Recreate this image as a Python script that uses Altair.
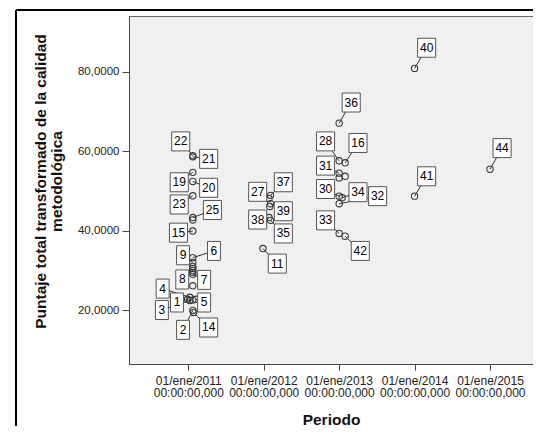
import altair as alt
import pandas as pd

# Case IDs, period (decimal year), score, and label-box anchor (data units)
ids = [22, 21, 19, 20, 23, 25, 24, 15, 6, 9, 10, 12, 8, 7, 13, 17, 1, 4, 3, 5, 18, 2, 14,
       37, 27, 39, 26, 38, 35, 11,
       36, 28, 16, 31, 29, 43, 30, 34, 32, 33, 42,
       40, 41, 44]
periodo = [2011.06, 2011.06, 2011.06, 2011.06, 2011.06, 2011.06, 2011.06, 2011.06, 2011.06,
           2011.06, 2011.06, 2011.06, 2011.06, 2011.06, 2011.06, 2011.06, 2010.99, 2011.02,
           2011.02, 2011.10, 2011.06, 2011.06, 2011.07,
           2012.09, 2012.07, 2012.09, 2012.08, 2012.07, 2012.09, 2011.99,
           2013.00, 2013.00, 2013.08, 2013.00, 2013.08, 2013.00, 2013.00, 2013.04, 2013.00,
           2013.00, 2013.08,
           2014.00, 2014.00, 2015.00]
puntaje = [58.9, 58.6, 54.7, 52.4, 48.8, 43.3, 42.7, 39.9, 33.2, 32.0, 31.0, 30.5, 30.0, 29.0,
           29.5, 26.1, 22.7, 23.2, 22.4, 22.7, 22.5, 19.9, 19.4,
           48.9, 48.1, 46.8, 46.1, 43.3, 42.6, 35.5,
           67.1, 57.6, 57.1, 54.5, 53.7, 53.3, 48.7, 48.3, 46.8, 39.3, 38.6,
           80.9, 48.7, 55.5]
label_x = [2010.90, 2011.27, 2010.88, 2011.27, 2010.88, 2011.32, None, 2010.87, 2011.34,
           2010.93, None, None, 2010.92, 2011.21, None, None, 2010.85, 2010.66, 2010.65,
           2011.21, None, 2010.93, 2011.27,
           2012.26, 2011.92, 2012.26, None, 2011.92, 2012.26, 2012.18,
           2013.16, 2012.82, 2013.25, 2012.82, None, None, 2012.82, 2013.25, 2013.51,
           2012.82, 2013.28,
           2014.16, 2014.16, 2015.16]
label_y = [62.5, 58.1, 52.2, 50.8, 46.6, 45.2, None, 39.5, 34.9, 33.8, None, None, 27.7, 27.6,
           None, None, 21.9, 25.4, 20.0, 21.9, None, 15.0, 15.6,
           52.2, 49.8, 44.9, None, 42.8, 39.3, 31.7,
           72.3, 62.5, 62.1, 56.4, None, None, 50.5, 49.7, 48.7, 42.6, 34.9,
           86.1, 53.7, 60.8]

x_ticks = [2011, 2012, 2013, 2014, 2015]
y_ticks = [20, 40, 60, 80]

df = pd.DataFrame({"id": ids, "periodo": periodo, "puntaje": puntaje,
                   "lx": label_x, "ly": label_y})
df["digits"] = df["id"].astype(str).str.len().astype(str)
labeled = df.dropna(subset=["lx"]).copy()

FONT = "Liberation Sans"
xs = alt.Scale(domain=[2010.214, 2015.57], nice=False, zero=False)
ys = alt.Scale(domain=[6.4, 94.1], nice=False, zero=False)

x_axis = alt.Axis(values=x_ticks, grid=False, tickSize=6, labelPadding=5,
                  labelExpr="['01/ene/' + datum.value, '00:00:00,000']",
                  labelFontSize=12, labelLineHeight=12, labelColor="#222", labelFont=FONT,
                  title="Periodo", titleFont=FONT, titleFontSize=15.5, titleFontWeight="bold",
                  titleColor="#111", titleY=55, titleBaseline="middle",
                  domainColor="#444", tickColor="#444", labelFlush=False, labelOverlap=False)
y_axis = alt.Axis(values=y_ticks, grid=False, tickSize=7, labelPadding=3,
                  labelExpr="replace(format(datum.value, '.4f'), '.', ',')",
                  labelFontSize=11.5, labelColor="#222", labelFont=FONT,
                  title=["Puntaje total transformado de la calidad", "metodológica"],
                  titleFont=FONT, titleFontSize=15.5, titleFontWeight="bold", titleColor="#111",
                  titleX=-89, titleY=165, titleAngle=-90, titleAlign="center",
                  titleBaseline="middle", titleLineHeight=16,
                  domainColor="#444", tickColor="#444")

base = alt.Chart(df)

points = base.mark_point(shape="circle", filled=False, size=40, stroke="#3a3a3a",
                         strokeWidth=1.1, opacity=1).encode(
    x=alt.X("periodo:Q", scale=xs, axis=x_axis),
    y=alt.Y("puntaje:Q", scale=ys, axis=y_axis),
)

lab = alt.Chart(labeled)
leaders = lab.mark_rule(color="#333", strokeWidth=1).encode(
    x=alt.X("periodo:Q", scale=xs), y=alt.Y("puntaje:Q", scale=ys),
    x2="lx:Q", y2="ly:Q")

boxes = lab.mark_point(filled=True, fill="white", stroke="#555", strokeWidth=1,
                       size=361, opacity=1).encode(
    x=alt.X("lx:Q", scale=xs), y=alt.Y("ly:Q", scale=ys),
    shape=alt.Shape("digits:N", legend=None,
                    scale=alt.Scale(domain=["1", "2"],
                                    range=["M-0.68,-1H0.68V1H-0.68Z",
                                           "M-0.95,-1H0.95V1H-0.95Z"])))

texts = lab.mark_text(font=FONT, fontSize=12, color="black", align="center",
                      baseline="middle").encode(
    x=alt.X("lx:Q", scale=xs), y=alt.Y("ly:Q", scale=ys), text="id:N")

# outer figure frame (top and left edges, continuing past the window)
one = pd.DataFrame({"k": [0]})
FR_X0, FR_X1 = 2008.716, 2016.5
FR_Y0, FR_Y1 = 95.6, -40.0
frame_top = alt.Chart(one).mark_rule(color="black", strokeWidth=2, clip=False).encode(
    x=alt.datum(FR_X0), x2=alt.datum(FR_X1), y=alt.datum(FR_Y0))
frame_left = alt.Chart(one).mark_rule(color="black", strokeWidth=2, clip=False).encode(
    x=alt.datum(FR_X0), y=alt.datum(FR_Y0), y2=alt.datum(FR_Y1))

chart = alt.layer(leaders, points, boxes, texts, frame_top, frame_left).properties(
    width=404, height=348,
    padding={"left": 121, "top": 8, "right": 0, "bottom": 62},
    autosize="none",
).configure(
    background="white",
    view=alt.ViewConfig(fill="#f0f0f0", stroke="#666", strokeWidth=1),
)

chart.save("out.html", embed_options={"renderer": "svg", "actions": False})
